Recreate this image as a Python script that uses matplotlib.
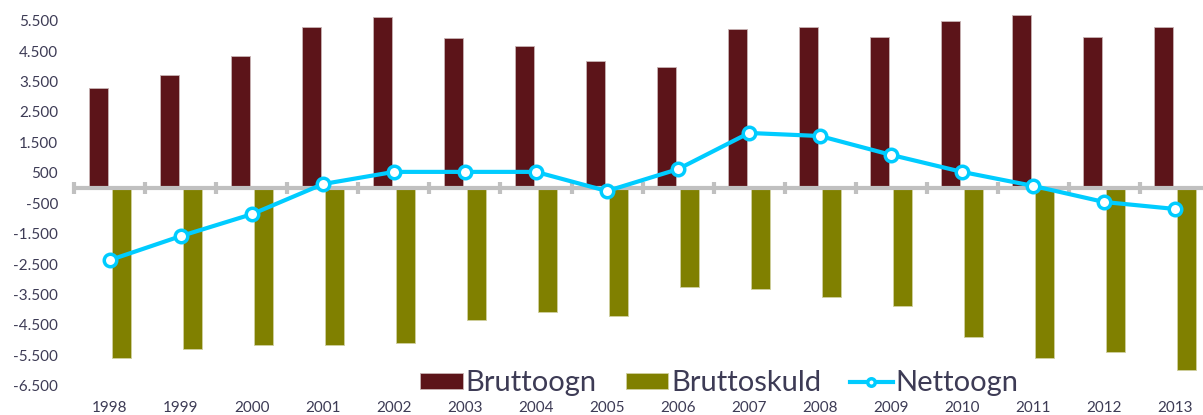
import matplotlib.pyplot as plt
import numpy as np
from matplotlib.ticker import FuncFormatter

years = ['1998', '1999', '2000', '2001', '2002', '2003', '2004', '2005',
         '2006', '2007', '2008', '2009', '2010', '2011', '2012', '2013']
bruttoogn = [3290, 3720, 4340, 5300, 5620, 4930, 4670, 4180,
             3980, 5230, 5300, 4970, 5490, 5690, 4970, 5300]
bruttoskuld = [-5590, -5300, -5160, -5160, -5100, -4340, -4080, -4210,
               -3260, -3320, -3590, -3880, -4900, -5590, -5400, -5990]
nettoogn = [-2370, -1580, -860, 130, 530, 530, 530, -100,
            620, 1810, 1710, 1090, 530, 70, -460, -690]
yticks = list(range(-6500, 6000, 1000))

txt = '#3d3b55'
gray = '#c0c0c0'
plt.rcParams['font.family'] = ['Lato', 'DejaVu Sans']

fig = plt.figure(figsize=(12.03, 4.15), dpi=100)
ax = fig.add_axes([0, 20 / 415, 1, 395 / 415])

x = np.arange(len(years))
w = 0.27
b1 = ax.bar(x - 0.165, bruttoogn, w, color='#5c1419', edgecolor='#c8b4b4',
            linewidth=0.6, label='Bruttoogn', zorder=2)
b2 = ax.bar(x + 0.165, bruttoskuld, w, color='#808000', edgecolor='#d0d0a0',
            linewidth=0.6, label='Bruttoskuld', zorder=2)

# zero axis with category tick marks
ax.hlines(0, -0.5, 15.5, color=gray, lw=3, zorder=3)
ax.vlines(np.arange(-0.5, 16, 1), -190, 190, color=gray, lw=3, zorder=3)

ln, = ax.plot(x, nettoogn, color='#00ccff', lw=3, marker='o', ms=9,
              mfc='white', mec='#00ccff', mew=2.5, label='Nettoogn', zorder=4)

ax.set_xlim(-1.549, 15.394)
ax.set_ylim(-6809, 6184)
ax.set_xticks(x)
ax.set_xticklabels(years)
ax.set_yticks(yticks)
ax.yaxis.set_major_formatter(FuncFormatter(lambda v, p: f'{int(v):,}'.replace(',', '.')))
ax.tick_params(axis='x', length=0, pad=4, labelsize=11, labelcolor=txt)
ax.tick_params(axis='y', length=0, pad=-41.8, labelsize=11, labelcolor=txt)
for s in ax.spines.values():
    s.set_visible(False)

ax.legend([b1, b2, ln], ['Bruttoogn', 'Bruttoskuld', 'Nettoogn'],
          loc='center', bbox_to_anchor=(0.598, 0.03), ncol=3, frameon=False,
          fontsize=21, labelcolor=txt, handlelength=1.45, handleheight=0.45,
          handletextpad=0.1, columnspacing=1.0, markerscale=0.6)

fig.savefig('out.png', dpi=100)
